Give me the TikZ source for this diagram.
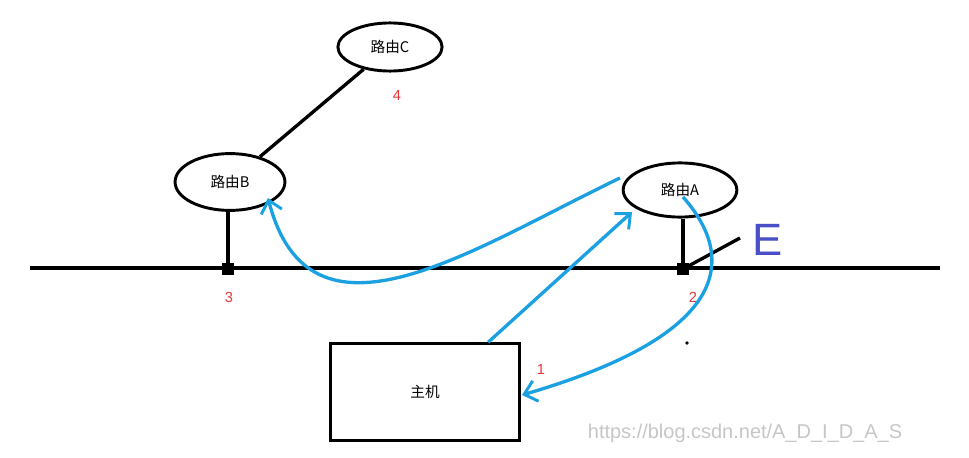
\documentclass[tikz,border=0pt]{standalone}
\usepackage{fontspec}
\setmainfont{Liberation Sans}
\newfontfamily\cjk{Noto Sans CJK SC}
\usetikzlibrary{arrows.meta,shapes.geometric}
\definecolor{flowBlue}{HTML}{1BA1E2}
\definecolor{markRed}{HTML}{E8363A}
\definecolor{penBlue}{HTML}{4A4FC8}
\tikzset{
    router/.style={
        draw=black,
        ellipse,
        line width=2.2pt,
        fill=white,
        font=\cjk\fontsize{11}{11}\selectfont
    },
    host/.style={
        draw=black,
        rectangle,
        line width=2.2pt,
        font=\cjk\fontsize{11}{11}\selectfont
    },
    wire/.style={
        line width=2.5pt,
        color=black
    },
    flow/.style={
        -{Straight Barb[length=9pt,width=16pt,line width=2.2pt]},
        line width=2.5pt,
        color=flowBlue
    },
    num/.style={
        font=\fontsize{11}{11}\selectfont,
        color=markRed
    }
}
\begin{document}
\begin{tikzpicture}[x=0.0264cm,y=-0.0264cm]
    \useasboundingbox (0,0) rectangle (969,458);
    \node[router, minimum width=2.75cm, minimum height=1.27cm] (rc) at (390,47) {路由C};
    \node[router, minimum width=2.9cm, minimum height=1.5cm] (rb) at (230,182) {路由B};
    \node[router, minimum width=3.0cm, minimum height=1.43cm] (ra) at (680,190) {路由A};
    \node[host, minimum width=5.0cm, minimum height=2.55cm] (pc) at (425,392) {主机};

    \coordinate (lanL) at (30,268);
    \coordinate (lanR) at (940,268);
    \coordinate (pb) at (228,269);
    \coordinate (pa) at (683,269);
    \coordinate (ex) at (740,238);

    \draw[wire] (lanL) -- (lanR);
    \draw[wire] (rb) -- (rc);
    \draw[wire] (rb.south -| pb) -- (pb);
    \draw[wire] (ra.south -| pa) -- (pa);
    \draw[wire] (pa) -- (ex);
    \fill (pb) ++(-6,-6) rectangle ++(12,12);
    \fill (pa) ++(-6,-6) rectangle ++(12,12);
    \fill (687,343) circle (1.8);

    \node[font=\fontsize{34}{34}\selectfont, text=penBlue] (elabel) at (768,240) {E};
    \node[num] (n4) at (397,95) {4};
    \node[num] (n3) at (229,297) {3};
    \node[num] (n2) at (693,297) {2};
    \node[num] (n1) at (541,369) {1};

    \draw[flow] (pc.north east) ++(-33,0) coordinate (pcTop) -- (632,212);
    \draw[flow] (683,197) .. controls (730,250) and (745,330) .. (522,395);
    \draw[flow] (620,178) .. controls (470,250) and (310,360) .. (268,198);

    \node[font=\fontsize{15}{15}\selectfont, text=gray!45] (mark) at (745,433) {https://blog.csdn.net/A\_D\_I\_D\_A\_S};
\end{tikzpicture}
\end{document}
